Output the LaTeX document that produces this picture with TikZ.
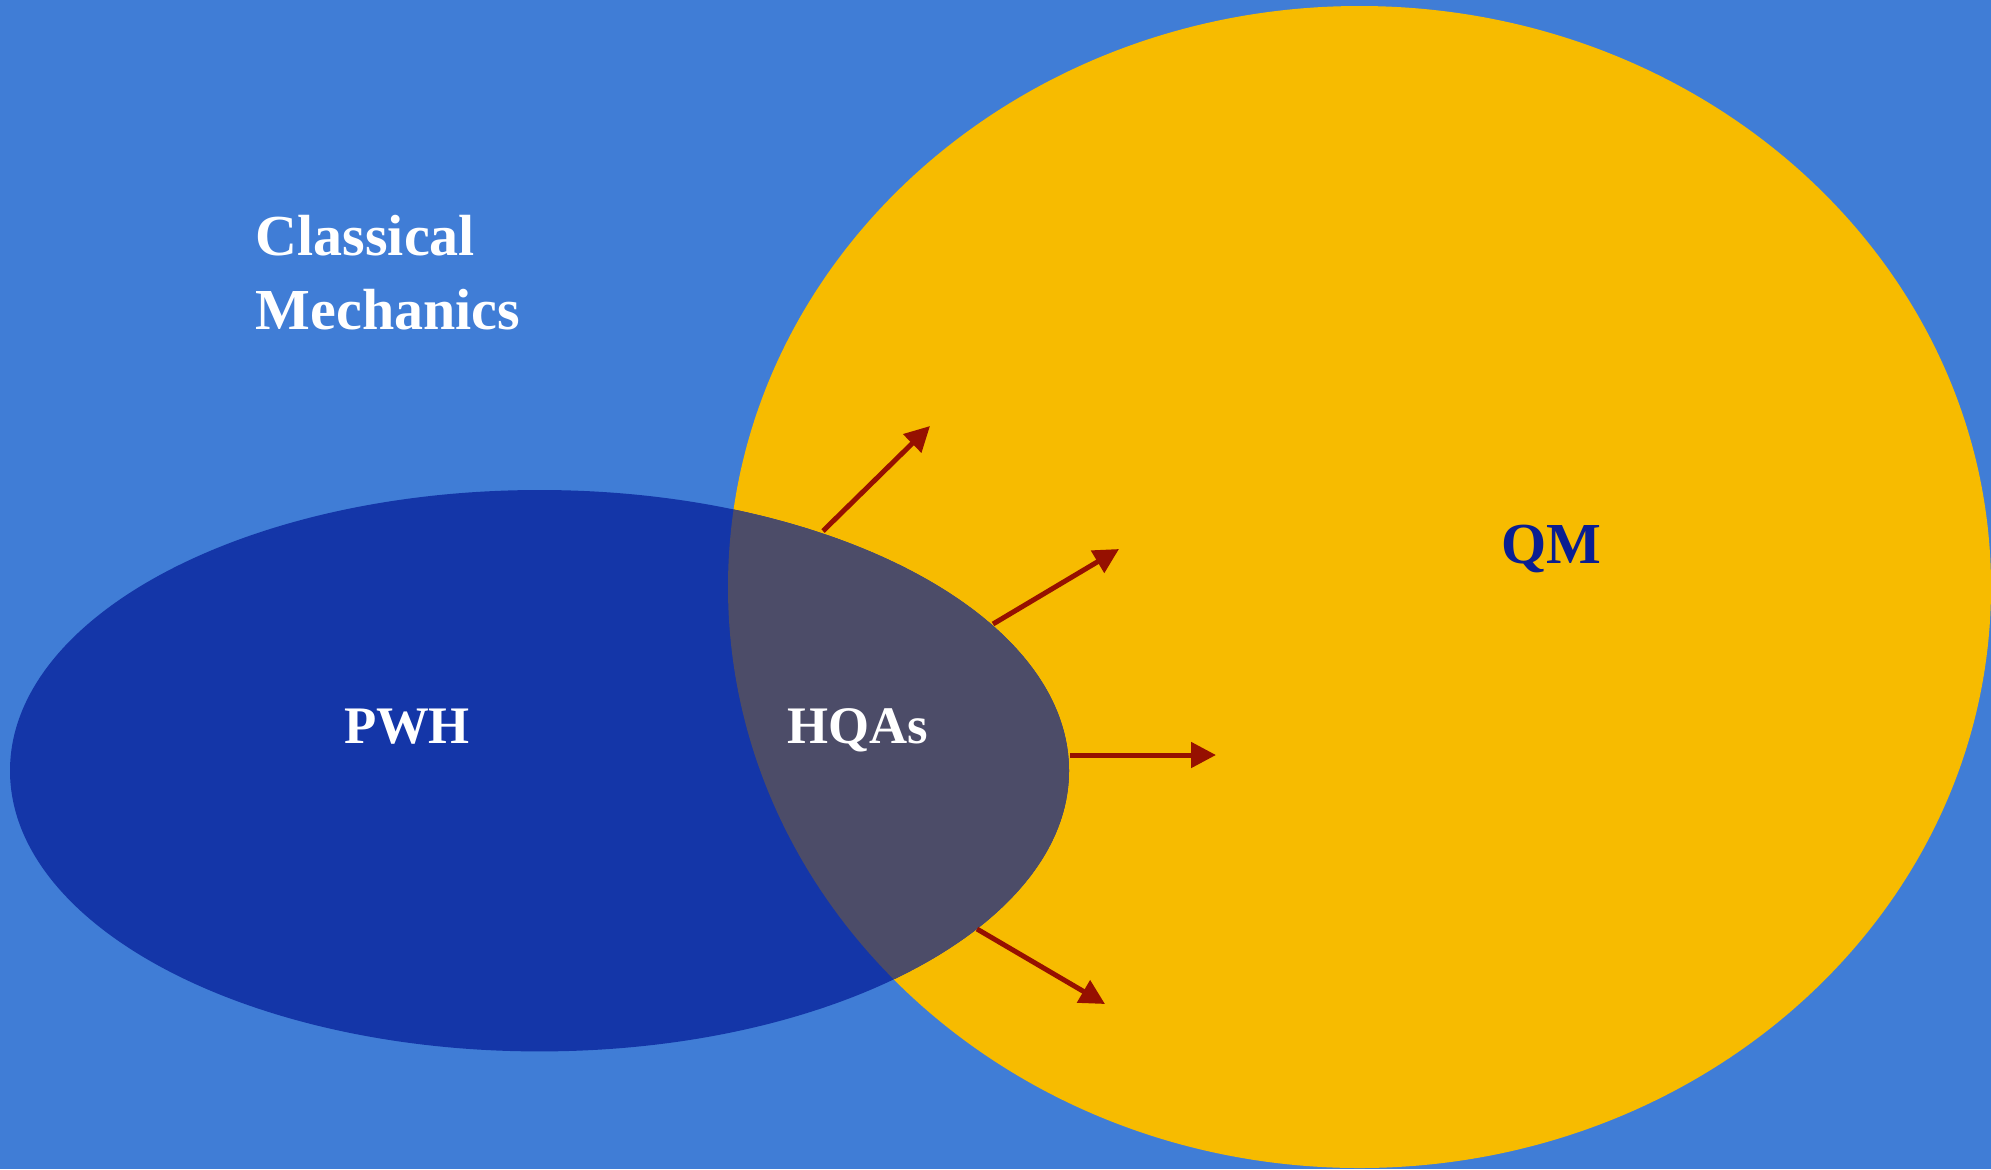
\documentclass[tikz,border=0pt]{standalone}
\usepackage{xcolor}
\usepackage{fontspec}
\setmainfont{Liberation Serif}
\usepackage{tikz}
\usetikzlibrary{arrows.meta,positioning}

\definecolor{skyback}{RGB}{64,125,214}
\definecolor{pwhblue}{RGB}{20,54,168}
\definecolor{qmgold}{RGB}{247,187,0}
\definecolor{hqgrey}{RGB}{76,76,104}
\definecolor{flowred}{RGB}{150,16,0}
\definecolor{qmtext}{RGB}{10,30,145}

\begin{document}
\begin{tikzpicture}[x=0.01cm, y=-0.01cm,
    biglabel/.style={text=white, font=\fontsize{16.5}{20}\selectfont\bfseries, inner sep=0pt},
    setlabel/.style={text=white, font=\fontsize{15}{18}\selectfont\bfseries, inner sep=0pt},
    outflow/.style={draw=flowred, line width=1.42pt, -{Triangle[length=0.25cm, width=0.25cm]}}]
    % background and frame
    \fill[skyback] (0,0) rectangle (1991,1169);
    \useasboundingbox (0,0) rectangle (1991,1169);

    % the two sets and their overlap
    \fill[qmgold] (1359.5,587) ellipse (631.5 and 581);
    \fill[pwhblue] (539.5,770.7) ellipse (529.5 and 280.7);
    \begin{scope}
        \clip (1359.5,587) ellipse (631.5 and 581);
        \fill[hqgrey] (539.5,770.7) ellipse (529.5 and 280.7);
    \end{scope}

    % labels
    \node[biglabel, anchor=base west] (classical) at (255,255) {Classical};
    \node[biglabel, anchor=base west] (mechanics) at (255,329) {Mechanics};
    \node[setlabel, anchor=base] (pwh) at (407,743) {PWH};
    \node[setlabel, anchor=base] (hqas) at (858,743) {HQAs};
    \node[biglabel, text=qmtext, anchor=base] (qm) at (1551,563) {QM};

    % arrows leaving the overlap
    \coordinate (s1) at (823,531);  \coordinate (e1) at (930,426);
    \coordinate (s2) at (993,624);  \coordinate (e2) at (1119,549);
    \coordinate (s3) at (1070,755); \coordinate (e3) at (1216,755);
    \coordinate (s4) at (977,929);  \coordinate (e4) at (1105,1004);
    \draw[outflow] (s1) -- (e1);
    \draw[outflow] (s2) -- (e2);
    \draw[outflow] (s3) -- (e3);
    \draw[outflow] (s4) -- (e4);
\end{tikzpicture}
\end{document}
